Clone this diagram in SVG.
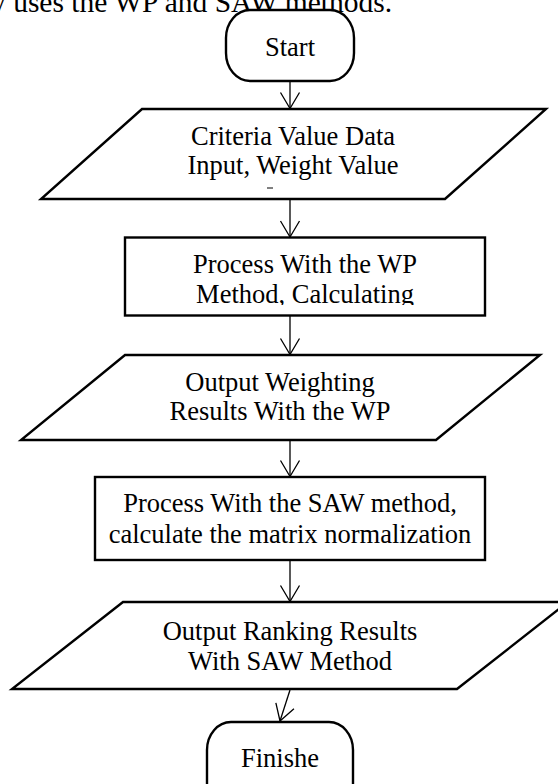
<svg xmlns="http://www.w3.org/2000/svg" width="558" height="784" viewBox="0 0 558 784">
  <style>
    .shape { fill: #fff; stroke: #000; stroke-width: 2.4; stroke-linejoin: miter; }
    .lbl { font-family: "Liberation Serif", "Times New Roman", serif; font-size: 26.5px; text-anchor: middle; fill: #000; }
    .body { font-family: "Liberation Serif", "Times New Roman", serif; font-size: 29.5px; fill: #000; }
    .conn { fill: none; stroke: #000; stroke-width: 1.3; marker-end: url(#arr); }
  </style>
  <defs>
    <marker id="arr" markerUnits="userSpaceOnUse" markerWidth="20" markerHeight="22" refX="0" refY="0" orient="auto" overflow="visible">
      <path d="M-16,-9.5 L0,0 L-16,9.5" fill="none" stroke="#000" stroke-width="1.3"/>
    </marker>
    <clipPath id="clipP2">
      <rect x="125" y="237" width="360" height="68"/>
    </clipPath>
  </defs>

  <rect width="558" height="784" fill="#fff"/>

  <!-- running text line above the chart, cut at the page top -->
  <text class="body" x="-9" y="12">y uses the WP and SAW methods.</text>

  <g id="start">
    <rect class="shape" x="226" y="10" width="128" height="71" rx="24" ry="28"/>
    <text class="lbl" x="290" y="56">Start</text>
  </g>

  <g id="input-data">
    <polygon class="shape" points="142,109 546,109 445,199 41,199"/>
    <text class="lbl" x="293" y="145">Criteria Value Data</text>
    <text class="lbl" x="293" y="174">Input, Weight Value</text>
    <line x1="267" y1="188" x2="273" y2="188" stroke="#000" stroke-width="1"/>
  </g>

  <g id="process-wp">
    <rect class="shape" x="125" y="237.5" width="360" height="78"/>
    <g clip-path="url(#clipP2)">
      <text class="lbl" x="305" y="273">Process With the WP</text>
      <text class="lbl" x="305" y="302.5">Method, Calculating</text>
    </g>
  </g>

  <g id="output-wp">
    <polygon class="shape" points="125,355 540,355 436,440 21,440"/>
    <text class="lbl" x="280" y="391">Output Weighting</text>
    <text class="lbl" x="280" y="420">Results With the WP</text>
  </g>

  <g id="process-saw">
    <rect class="shape" x="95" y="477" width="390" height="83"/>
    <text class="lbl" x="290" y="512">Process With the SAW method,</text>
    <text class="lbl" x="290" y="543">calculate the matrix normalization</text>
  </g>

  <g id="output-saw">
    <polygon class="shape" points="123,602 568,602 457,689 12,689"/>
    <text class="lbl" x="290" y="640">Output Ranking Results</text>
    <text class="lbl" x="290" y="670">With SAW Method</text>
  </g>

  <g id="finish">
    <rect class="shape" x="207" y="722" width="146" height="90" rx="24" ry="28"/>
    <text class="lbl" x="280" y="767">Finishe</text>
  </g>

  <g id="connectors">
    <line class="conn" x1="290" y1="81" x2="290" y2="108.5"/>
    <line class="conn" x1="290" y1="199" x2="290" y2="237"/>
    <line class="conn" x1="290" y1="315.5" x2="290" y2="354.5"/>
    <line class="conn" x1="290" y1="440" x2="290" y2="476.5"/>
    <line class="conn" x1="290" y1="560" x2="290" y2="601.5"/>
    <line class="conn" x1="290" y1="690" x2="280" y2="721"/>
  </g>
</svg>
